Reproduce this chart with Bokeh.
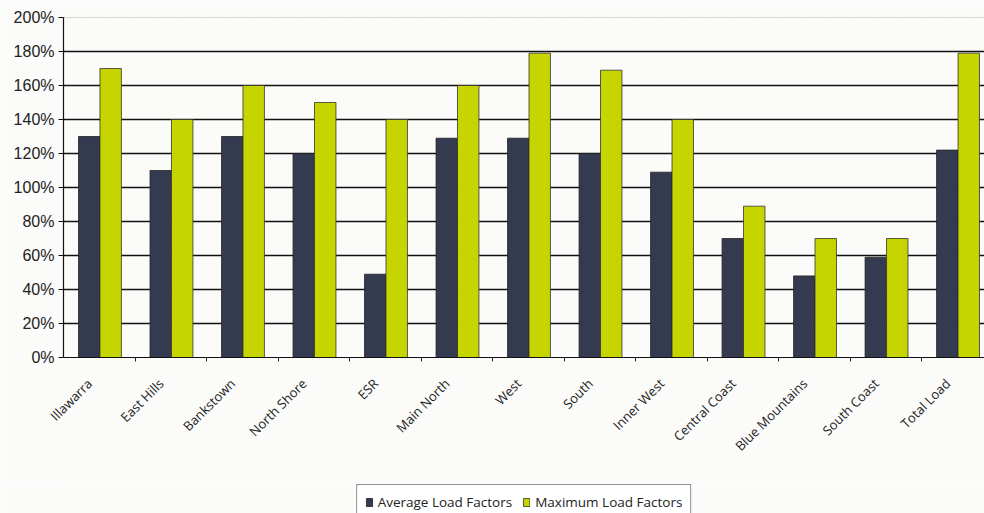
import numpy as np
from bokeh.plotting import figure
from bokeh.layouts import column
from bokeh.models import (ColumnDataSource, Range1d, FixedTicker, NumeralTickFormatter,
                          Legend, LegendItem, Span)
from bokeh.embed import file_html
from bokeh.resources import INLINE

categories = ["Illawarra", "East Hills", "Bankstown", "North Shore", "ESR", "Main North",
              "West", "South", "Inner West", "Central Coast", "Blue Mountains",
              "South Coast", "Total Load"]
average_load = [1.30, 1.10, 1.30, 1.20, 0.49, 1.29, 1.29, 1.20, 1.09, 0.70, 0.48, 0.59, 1.22]
maximum_load = [1.70, 1.40, 1.60, 1.50, 1.40, 1.60, 1.79, 1.69, 1.40, 0.89, 0.70, 0.70, 1.79]
y_ticks = [0, 0.2, 0.4, 0.6, 0.8, 1.0, 1.2, 1.4, 1.6, 1.8, 2.0]
series_names = ["Average Load Factors", "Maximum Load Factors"]

AVG_COLOR = "#343a4f"
MAX_COLOR = "#c6d400"
BG = "#fbfbf9"

idx = np.arange(len(categories))
src_avg = ColumnDataSource(dict(x=idx - 0.14, avg=average_load))
src_max = ColumnDataSource(dict(x=idx + 0.16, mx=maximum_load))

p = figure(width=984, height=484, output_backend="svg", toolbar_location=None,
           x_range=Range1d(-0.5, 12.38), y_range=Range1d(0, 2.0),
           min_border_left=63, min_border_right=0, min_border_top=17,
           min_border_bottom=127, background_fill_color=BG, border_fill_color=BG)
p.outline_line_color = None

r_avg = p.vbar(x="x", top="avg", width=0.3, source=src_avg, fill_color=AVG_COLOR,
               line_color="#222222", line_width=0.8)
r_max = p.vbar(x="x", top="mx", width=0.3, source=src_max, fill_color=MAX_COLOR,
               line_color="#333333", line_width=0.8)

# y axis
p.yaxis.ticker = FixedTicker(ticks=y_ticks)
p.yaxis.formatter = NumeralTickFormatter(format="0%")
p.yaxis.major_label_text_font = "Liberation Sans"
p.yaxis.major_label_text_font_size = "16px"
p.yaxis.major_label_text_color = "#222222"
p.yaxis.major_label_standoff = 4
p.yaxis.axis_line_color = "#111111"
p.yaxis.axis_line_width = 1.2
p.yaxis.major_tick_line_color = "#111111"
p.yaxis.major_tick_out = 5
p.yaxis.major_tick_in = 0
p.yaxis.minor_tick_line_color = None

# x axis
p.xaxis.ticker = FixedTicker(ticks=list(idx), minor_ticks=list(idx[:-1] + 0.5))
p.xaxis.major_label_overrides = {int(i): c + "    " for i, c in zip(idx, categories)}
p.xaxis.major_label_orientation = np.pi / 4
p.xaxis.major_label_text_font = "Open Sans"
p.xaxis.major_label_text_font_size = "13px"
p.xaxis.major_label_text_color = "#222222"
p.xaxis.major_label_standoff = 8
p.xaxis.major_tick_line_color = None
p.xaxis.minor_tick_line_color = "#222222"
p.xaxis.minor_tick_out = 4
p.xaxis.minor_tick_in = 0
p.xaxis.axis_line_color = "#111111"
p.xaxis.axis_line_width = 1.2

# grid
p.xgrid.grid_line_color = None
p.ygrid.ticker = FixedTicker(ticks=y_ticks[1:-1])
p.ygrid.grid_line_color = "#111111"
p.ygrid.grid_line_width = 1.3
top_line = Span(location=2.0, dimension="width", line_color="#888888",
                line_dash="2 1", line_width=1, level="underlay")
p.add_layout(top_line)

# legend strip (reuses the series sources; bars fall outside its visible range)
lg = figure(width=984, height=29, output_backend="svg", toolbar_location=None,
            x_axis_location=None, y_axis_location=None,
            x_range=Range1d(100, 101), y_range=Range1d(100, 101),
            min_border_left=0, min_border_right=0, min_border_top=0, min_border_bottom=0,
            background_fill_color=BG, border_fill_color=BG)
lg.outline_line_color = None
lg.xgrid.grid_line_color = None
lg.ygrid.grid_line_color = None
l_avg = lg.vbar(x="x", top="avg", width=0.3, source=src_avg,
                fill_color=AVG_COLOR, line_color="#222222", line_width=0.8)
l_max = lg.vbar(x="x", top="mx", width=0.3, source=src_max,
                fill_color=MAX_COLOR, line_color="#333333", line_width=0.8)
legend = Legend(items=[LegendItem(label=series_names[0], renderers=[l_avg]),
                       LegendItem(label=series_names[1], renderers=[l_max])],
                orientation="horizontal", location="top_center",
                label_text_font="Open Sans", label_text_font_size="13.5px",
                label_text_color="#222222", glyph_width=8, glyph_height=10,
                label_standoff=5, spacing=10, padding=8, margin=0,
                border_line_color="#222222", border_line_width=1.2,
                background_fill_color="#ffffff", background_fill_alpha=1,
                label_height=14)
lg.add_layout(legend)

layout = column(p, lg, spacing=0)
open("out.html", "w").write(file_html(layout, INLINE))
